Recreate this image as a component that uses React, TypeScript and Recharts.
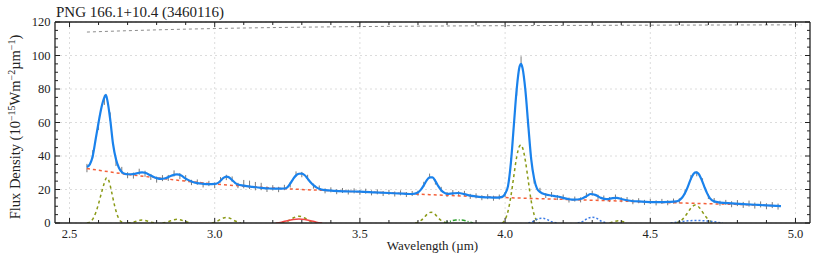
import { LineChart, Line, XAxis, YAxis, CartesianGrid, ErrorBar } from 'recharts';

const FONT = '"Liberation Serif", "Times New Roman", serif';
const INK = '#222';

// Wavelength (µm) / flux density (10^-15 W m^-2 µm^-1)

const fitModel: [number, number][] = [
  [2.56, 33.5], [2.57, 35], [2.58, 40], [2.59, 50], [2.6, 60], [2.61, 69], [2.62, 75], [2.625, 76.5],
  [2.63, 73.5], [2.64, 62], [2.65, 47], [2.66, 38], [2.67, 33], [2.68, 30.5], [2.69, 29.4], [2.7, 29.1],
  [2.72, 29.2], [2.74, 30], [2.75, 30.2], [2.76, 30], [2.78, 28.3], [2.8, 26.8], [2.815, 26.3], [2.83, 26.7],
  [2.85, 28.2], [2.87, 29], [2.885, 28.3], [2.9, 26.5], [2.92, 24.8], [2.94, 23.8], [2.96, 23.4], [2.98, 23.2],
  [3.0, 23.3], [3.01, 23.8], [3.02, 25.2], [3.03, 26.9], [3.04, 27.7], [3.05, 27.2], [3.06, 25.6], [3.07, 24],
  [3.08, 23], [3.1, 22.3], [3.13, 21.6], [3.16, 21], [3.19, 20.6], [3.22, 20.5], [3.24, 20.6], [3.25, 21.3],
  [3.26, 23.5], [3.27, 26.2], [3.28, 28.4], [3.29, 29.4], [3.3, 29.5], [3.31, 28.5], [3.32, 26.5], [3.33, 24.3],
  [3.34, 22.6], [3.35, 21.3], [3.36, 20.4], [3.38, 19.6], [3.41, 19.2], [3.45, 18.9], [3.5, 18.7], [3.55, 18.3],
  [3.6, 17.9], [3.65, 17.5], [3.68, 17.3], [3.7, 18.2], [3.71, 19.9], [3.72, 22.5], [3.73, 25.5], [3.74, 27.2],
  [3.75, 27.2], [3.76, 25], [3.77, 22], [3.78, 19.6], [3.79, 18.1], [3.8, 17.4], [3.82, 17.7], [3.84, 17.9],
  [3.86, 17.2], [3.88, 16.3], [3.91, 15.6], [3.94, 15.3], [3.97, 15.1], [3.99, 15.6], [4.0, 17.5], [4.01, 22],
  [4.02, 36], [4.03, 58], [4.04, 80], [4.05, 93.5], [4.055, 95], [4.06, 92.5], [4.07, 79], [4.08, 58],
  [4.09, 38], [4.1, 26.5], [4.11, 20.5], [4.12, 18.6], [4.14, 17], [4.16, 16.4], [4.18, 15.8], [4.2, 15],
  [4.22, 14.2], [4.24, 13.9], [4.26, 14.3], [4.28, 16], [4.295, 17.3], [4.31, 16.8], [4.33, 15], [4.35, 14.2],
  [4.37, 14.8], [4.385, 15], [4.4, 14.3], [4.43, 13.3], [4.47, 12.8], [4.52, 12.5], [4.57, 12.6], [4.59, 12.9],
  [4.6, 13.6], [4.61, 15.2], [4.62, 18], [4.63, 22], [4.64, 26.5], [4.65, 29.6], [4.657, 30.2], [4.665, 29.6],
  [4.675, 26.5], [4.685, 22.2], [4.695, 18], [4.705, 14.9], [4.72, 12.9], [4.74, 12.2], [4.78, 11.7], [4.82, 11.3],
  [4.86, 10.9], [4.9, 10.5], [4.95, 10.1],
];

const continuum: [number, number][] = [
  [2.56, 32.5], [2.6, 31.5], [2.7, 29], [2.8, 27], [2.9, 25], [3.0, 23.3], [3.1, 22], [3.2, 20.9],
  [3.3, 20], [3.4, 19.3], [3.5, 18.6], [3.6, 18], [3.7, 17.2], [3.8, 16.5], [3.9, 15.8], [4.0, 15.2],
  [4.1, 14.6], [4.2, 14.1], [4.3, 13.6], [4.4, 13.1], [4.5, 12.5], [4.6, 12], [4.7, 11.5], [4.8, 11.1],
  [4.9, 10.5], [4.95, 10.3],
];

// observed spectrum: wavelength, flux, 1-sigma error
const observed: [number, number, number][] = [
  [2.56, 32.8, 2.5], [2.58, 41, 2.5], [2.6, 58.5, 3], [2.62, 73.5, 3], [2.64, 63.5, 2.5], [2.66, 36.5, 2.5],
  [2.68, 31.5, 2], [2.7, 28.5, 1.8], [2.72, 28.3, 1.8], [2.74, 30.6, 1.8], [2.76, 29.4, 1.8], [2.78, 27.5, 1.8],
  [2.8, 25.9, 1.8], [2.82, 26.8, 1.8], [2.84, 26.9, 1.8], [2.86, 29.6, 1.8], [2.88, 28, 1.8], [2.9, 26.8, 1.8],
  [2.92, 24.2, 1.6], [2.94, 24.4, 1.6], [2.96, 22.8, 1.6], [2.98, 23.6, 1.6], [3.0, 22.5, 1.6], [3.02, 25.8, 1.6],
  [3.04, 27.2, 1.6], [3.06, 26.2, 1.6], [3.08, 22.4, 1.6], [3.1, 23.2, 2.5], [3.12, 22.8, 2.5], [3.14, 22, 2.5],
  [3.16, 21.8, 2.2], [3.18, 20.1, 1.6], [3.2, 21, 1.6], [3.22, 20, 1.6], [3.24, 21.2, 1.6], [3.26, 22.8, 1.6],
  [3.28, 29.2, 1.6], [3.3, 28.9, 1.6], [3.32, 27.2, 1.6], [3.34, 22, 1.5], [3.36, 20.9, 1.5], [3.38, 19.2, 1.5],
  [3.4, 19.8, 1.5], [3.42, 18.7, 1.5], [3.44, 19.4, 1.5], [3.46, 18.5, 1.5], [3.48, 19.2, 1.5], [3.5, 18.3, 1.5],
  [3.52, 19, 1.5], [3.54, 18, 1.5], [3.56, 18.6, 1.5], [3.58, 17.6, 1.5], [3.6, 18.3, 1.5], [3.62, 17.3, 1.5],
  [3.64, 18, 1.5], [3.66, 17, 1.5], [3.68, 17.6, 1.5], [3.7, 17.8, 1.5], [3.72, 23.1, 1.5], [3.74, 28, 1.5],
  [3.76, 24.4, 1.5], [3.78, 20.1, 1.5], [3.8, 17, 1.5], [3.82, 18.2, 1.5], [3.84, 17.5, 1.5], [3.86, 17.7, 1.5],
  [3.88, 15.9, 1.5], [3.9, 16.2, 1.5], [3.92, 15.1, 1.5], [3.94, 15.7, 1.5], [3.96, 14.8, 1.5], [3.98, 15.5, 1.5],
  [4.0, 17, 1.5], [4.02, 37, 2], [4.04, 78.5, 2.5], [4.055, 97.2, 2.3], [4.08, 59.5, 2.5], [4.1, 25.5, 2],
  [4.12, 19.5, 1.5], [4.14, 16.4, 1.5], [4.16, 17, 1.5], [4.18, 15.2, 1.5], [4.2, 15.5, 1.5], [4.22, 13.7, 1.5],
  [4.24, 14.3, 1.5], [4.26, 13.8, 1.5], [4.28, 16.6, 1.5], [4.3, 17.8, 1.5], [4.32, 15.4, 1.5], [4.34, 14.9, 1.5],
  [4.36, 14, 1.5], [4.38, 15.5, 1.5], [4.4, 13.9, 1.5], [4.42, 14, 1.5], [4.44, 12.7, 1.5], [4.46, 13.3, 1.5],
  [4.48, 12.3, 1.5], [4.5, 12.9, 1.5], [4.52, 12, 1.5], [4.54, 12.9, 1.5], [4.56, 12.1, 1.5], [4.58, 13.1, 1.5],
  [4.6, 13.2, 1.5], [4.62, 18.6, 1.5], [4.64, 27.2, 1.5], [4.66, 29.4, 1.5], [4.68, 25.2, 1.5], [4.7, 15.8, 1.5],
  [4.72, 13.4, 1.5], [4.74, 11.8, 1.5], [4.76, 12.3, 1.5], [4.78, 11.2, 1.8], [4.8, 11.9, 1.8], [4.82, 10.8, 1.8],
  [4.84, 11.6, 1.8], [4.86, 10.4, 1.8], [4.88, 11.1, 1.8], [4.9, 10, 1.8], [4.92, 10.7, 1.8], [4.94, 9.8, 1.8],
];

// individual line components (olive dashed)
const line2625: [number, number][] = [
  [2.56, 0], [2.575, 1.2], [2.59, 6], [2.6, 11.5], [2.61, 18], [2.62, 24], [2.628, 27], [2.636, 25],
  [2.645, 18.5], [2.655, 10.5], [2.665, 4.5], [2.675, 1.2], [2.69, 0],
];
const line275: [number, number][] = [[2.7, 0], [2.72, 0.5], [2.74, 1.5], [2.75, 1.8], [2.76, 1.5], [2.78, 0.5], [2.8, 0]];
const line287: [number, number][] = [[2.82, 0], [2.84, 0.8], [2.86, 2], [2.87, 2.2], [2.88, 2], [2.9, 0.8], [2.92, 0]];
const line304: [number, number][] = [[2.99, 0], [3.01, 1.2], [3.03, 3], [3.04, 3.3], [3.05, 3], [3.07, 1.2], [3.09, 0]];
const line329: [number, number][] = [[3.23, 0], [3.25, 1], [3.27, 3], [3.29, 4], [3.31, 3], [3.33, 1], [3.35, 0]];
const line374: [number, number][] = [
  [3.69, 0], [3.71, 1.5], [3.72, 3], [3.73, 5], [3.745, 6.4], [3.76, 5], [3.77, 3], [3.78, 1.5], [3.8, 0],
];
const line405: [number, number][] = [
  [3.99, 0], [4.0, 2], [4.01, 7], [4.02, 16], [4.03, 28], [4.04, 39.5], [4.05, 46], [4.055, 46.6],
  [4.06, 45], [4.07, 37], [4.08, 25], [4.09, 13], [4.1, 5], [4.11, 1.2], [4.12, 0],
];
const line439: [number, number][] = [[4.36, 0], [4.375, 0.9], [4.39, 1.3], [4.405, 0.9], [4.42, 0]];
const line4655: [number, number][] = [
  [4.59, 0], [4.6, 0.8], [4.61, 2], [4.62, 4], [4.63, 6.5], [4.64, 9], [4.655, 10.7], [4.67, 9],
  [4.68, 6.5], [4.69, 4], [4.7, 2], [4.71, 0.8], [4.72, 0],
];

// other components
const band329: [number, number][] = [
  [3.21, 0], [3.23, 0.5], [3.25, 1.4], [3.27, 2.1], [3.29, 2.4], [3.31, 2.1], [3.33, 1.4], [3.35, 0.5], [3.37, 0],
];
const band384: [number, number][] = [[3.79, 0], [3.81, 1], [3.83, 1.8], [3.85, 1.8], [3.87, 1], [3.89, 0]];
const blue412: [number, number][] = [[4.08, 0], [4.1, 1.2], [4.115, 2.6], [4.13, 2.8], [4.145, 2], [4.16, 0.8], [4.18, 0]];
const blue430: [number, number][] = [[4.25, 0], [4.27, 1.2], [4.285, 2.8], [4.3, 3.4], [4.315, 2.8], [4.33, 1.2], [4.35, 0]];
const blue465: [number, number][] = [[4.57, 0], [4.6, 0.7], [4.63, 1.3], [4.66, 1.5], [4.69, 1.3], [4.72, 0.7], [4.75, 0]];

const upperLimit: [number, number][] = [
  [2.56, 114], [2.7, 114.8], [2.8, 115.3], [3.0, 116.1], [3.3, 116.9], [3.6, 117.4], [4.0, 117.8],
  [4.5, 118.1], [5.02, 118.3],
];

const X_TICKS = [2.5, 2.6, 2.7, 2.8, 2.9, 3.0, 3.1, 3.2, 3.3, 3.4, 3.5, 3.6, 3.7, 3.8, 3.9, 4.0, 4.1, 4.2, 4.3, 4.4, 4.5, 4.6, 4.7, 4.8, 4.9, 5.0];
const X_MAJOR = [2.5, 3.0, 3.5, 4.0, 4.5, 5.0];
const Y_TICKS = [0, 5, 10, 15, 20, 25, 30, 35, 40, 45, 50, 55, 60, 65, 70, 75, 80, 85, 90, 95, 100, 105, 110, 115, 120];
const Y_MAJOR = [0, 20, 40, 60, 80, 100, 120];

const pts = (arr: [number, number][]) => arr.map(([x, y]) => ({ x, y }));
const obsPts = observed.map(([x, y, err]) => ({ x, y, err }));

const OLIVE = '#8a9a16';
const oliveLines = [line2625, line275, line287, line304, line329, line374, line405, line439, line4655];
const blueDotted = [blue412, blue430, blue465];

function BottomTick({ x, y, payload }: any) {
  const major = X_MAJOR.includes(payload.value);
  return (
    <g>
      <line x1={x} x2={x} y1={y} y2={y - (major ? 5 : 3)} stroke={INK} strokeWidth={1} />
      {major && (
        <text x={x} y={y + 14.5} textAnchor="middle" fontSize={12.5} fontFamily={FONT} fill={INK}>
          {payload.value.toFixed(1)}
        </text>
      )}
    </g>
  );
}

function TopTick({ x, y, payload }: any) {
  const major = X_MAJOR.includes(payload.value);
  return <line x1={x} x2={x} y1={y} y2={y + (major ? 5 : 3)} stroke={INK} strokeWidth={1} />;
}

function LeftTick({ x, y, payload }: any) {
  const major = Y_MAJOR.includes(payload.value);
  return (
    <g>
      <line x1={x} x2={x + (major ? 5 : 3)} y1={y} y2={y} stroke={INK} strokeWidth={1} />
      {major && (
        <text x={x - 4.5} y={y + 4.2} textAnchor="end" fontSize={12.5} fontFamily={FONT} fill={INK}>
          {payload.value}
        </text>
      )}
    </g>
  );
}

function RightTick({ x, y, payload }: any) {
  const major = Y_MAJOR.includes(payload.value);
  return <line x1={x} x2={x - (major ? 5 : 3)} y1={y} y2={y} stroke={INK} strokeWidth={1} />;
}

const axisLine = { stroke: INK, strokeWidth: 1.3 };
const supStyle = { fontSize: 10, verticalAlign: '5px', lineHeight: 0 };

export default function App() {
  return (
    <div style={{ position: 'absolute', left: 0, top: 0, width: 830, height: 256, background: '#fff' }}>
      <LineChart width={830} height={256} margin={{ top: 0, right: 0, bottom: 0, left: 0 }}>
        <CartesianGrid
          xAxisId="bottom"
          yAxisId="left"
          stroke="#dcdcdc"
          strokeDasharray="2 3"
          verticalValues={X_MAJOR}
          horizontalValues={Y_MAJOR}
        />
        <XAxis
          xAxisId="bottom"
          dataKey="x"
          type="number"
          domain={[2.45, 5.05]}
          allowDataOverflow
          ticks={X_TICKS}
          interval={0}
          height={33}
          tickSize={0}
          tickMargin={0}
          tickLine={false}
          axisLine={axisLine}
          tick={<BottomTick />}
        />
        <XAxis
          xAxisId="top"
          orientation="top"
          dataKey="x"
          type="number"
          domain={[2.45, 5.05]}
          allowDataOverflow
          ticks={X_TICKS}
          interval={0}
          height={22}
          tickSize={0}
          tickMargin={0}
          tickLine={false}
          axisLine={axisLine}
          tick={<TopTick />}
        />
        <YAxis
          yAxisId="left"
          type="number"
          domain={[0, 120]}
          allowDataOverflow
          ticks={Y_TICKS}
          interval={0}
          width={55}
          tickSize={0}
          tickMargin={0}
          tickLine={false}
          axisLine={axisLine}
          tick={<LeftTick />}
        />
        <YAxis
          yAxisId="right"
          orientation="right"
          type="number"
          domain={[0, 120]}
          allowDataOverflow
          ticks={Y_TICKS}
          interval={0}
          width={20}
          tickSize={0}
          tickMargin={0}
          tickLine={false}
          axisLine={axisLine}
          tick={<RightTick />}
        />

        <Line
          xAxisId="top"
          yAxisId="right"
          data={pts(upperLimit)}
          dataKey="y"
          type="monotone"
          stroke="#8c8c8c"
          strokeWidth={1}
          strokeDasharray="3 3"
          dot={false}
          activeDot={false}
          isAnimationActive={false}
        />

        <Line
          xAxisId="bottom"
          yAxisId="left"
          data={obsPts}
          dataKey="y"
          stroke="none"
          dot={false}
          activeDot={false}
          isAnimationActive={false}
        >
          <ErrorBar dataKey="err" direction="y" width={0} stroke="#7a7a7a" strokeWidth={1} isAnimationActive={false} />
        </Line>

        {oliveLines.map((d, i) => (
          <Line
            key={`olive-${i}`}
            xAxisId="bottom"
            yAxisId="left"
            data={pts(d)}
            dataKey="y"
            type="monotone"
            stroke={OLIVE}
            strokeWidth={1.5}
            strokeDasharray="3 3"
            dot={false}
            activeDot={false}
            isAnimationActive={false}
          />
        ))}
        {blueDotted.map((d, i) => (
          <Line
            key={`blue-${i}`}
            xAxisId="bottom"
            yAxisId="left"
            data={pts(d)}
            dataKey="y"
            type="monotone"
            stroke="#3b7be6"
            strokeWidth={1.5}
            strokeDasharray="2 2"
            dot={false}
            activeDot={false}
            isAnimationActive={false}
          />
        ))}
        <Line
          xAxisId="bottom"
          yAxisId="left"
          data={pts(band384)}
          dataKey="y"
          type="monotone"
          stroke="#2ca02c"
          strokeWidth={1.5}
          strokeDasharray="4 2 1 2"
          dot={false}
          activeDot={false}
          isAnimationActive={false}
        />
        <Line
          xAxisId="bottom"
          yAxisId="left"
          data={pts(band329)}
          dataKey="y"
          type="monotone"
          stroke="#f04545"
          strokeWidth={1.6}
          dot={false}
          activeDot={false}
          isAnimationActive={false}
        />
        <Line
          xAxisId="bottom"
          yAxisId="left"
          data={pts(continuum)}
          dataKey="y"
          type="monotone"
          stroke="#f4603a"
          strokeWidth={1.5}
          strokeDasharray="3 3"
          dot={false}
          activeDot={false}
          isAnimationActive={false}
        />
        <Line
          xAxisId="bottom"
          yAxisId="left"
          data={pts(fitModel)}
          dataKey="y"
          type="monotone"
          stroke="#1a82ec"
          strokeWidth={2.2}
          dot={false}
          activeDot={false}
          isAnimationActive={false}
        />
      </LineChart>

      <div
        style={{
          position: 'absolute', left: 56, top: 5, fontFamily: FONT, fontSize: 15, lineHeight: '15px',
          color: INK, whiteSpace: 'nowrap',
        }}
      >
        PNG 166.1+10.4 (3460116)
      </div>
      <div
        style={{
          position: 'absolute', left: 55, top: 239, width: 755, textAlign: 'center', fontFamily: FONT,
          fontSize: 13, lineHeight: '13px', color: INK, whiteSpace: 'nowrap',
        }}
      >
        Wavelength (µm)
      </div>
      <div
        style={{
          position: 'absolute', left: 15 - 120, top: 127 - 8, width: 240, height: 16, lineHeight: '16px',
          textAlign: 'center', transform: 'rotate(-90deg)', fontFamily: FONT, fontSize: 14.5, color: INK,
          whiteSpace: 'nowrap',
        }}
      >
        Flux Density (10<sup style={supStyle}>−15</sup>Wm<sup style={supStyle}>−2</sup>µm<sup style={supStyle}>−1</sup>)
      </div>
    </div>
  );
}
